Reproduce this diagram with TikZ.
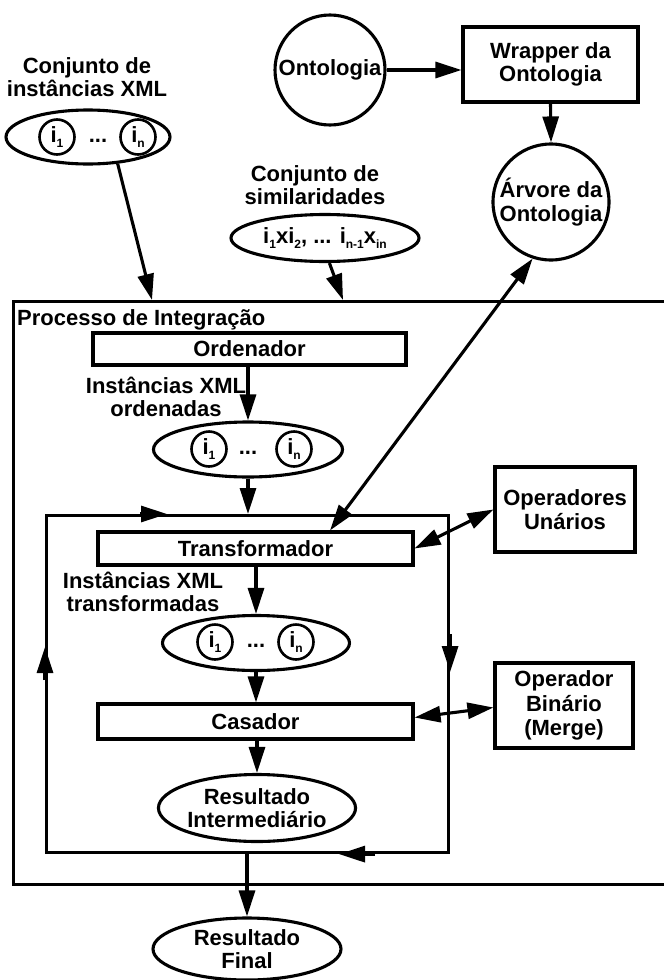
\documentclass[tikz,border=0pt]{standalone}
\usepackage{fontspec}
\setmainfont{Liberation Sans}
\usetikzlibrary{arrows.meta,shapes.geometric}
\newcommand{\isub}[1]{\raisebox{-5pt}{\fontsize{12}{12}\selectfont #1}}
\begin{document}
\begin{tikzpicture}[x=1pt,y=-1pt,
  font=\fontsize{22}{23.5}\selectfont\bfseries,
  every node/.style={inner sep=0pt, align=center},
  lw/.style={line width=3.1pt},
  box/.style={draw, lw, rectangle},
  ell/.style={draw, lw, ellipse},
  circ/.style={draw, lw, circle},
  ic/.style={draw, line width=2.6pt, circle, minimum size=35pt},
  arr/.style={lw, -{Triangle[length=26pt,width=16pt]}},
  darr/.style={lw, {Triangle[length=26pt,width=16pt]}-{Triangle[length=26pt,width=16pt]}},
]
\useasboundingbox (0,0) rectangle (664,980);

% top left
\node (lbl1) at (87,77) {Conjunto de\\instâncias XML};
\node[ell, minimum width=164pt, minimum height=54pt] (e1) at (88,137) {};
\node[ic] (e1a) at (57,137) {i\isub{1}};
\node (e1d) at (98,141) {...};
\node[ic] (e1b) at (138,137) {i\isub{n}};

% ontology
\node[circ, minimum size=110pt] (onto) at (330,70) {Ontologia};
\node[box, minimum width=175pt, minimum height=75pt] (wrap) at (550.5,64.5) {Wrapper da\\Ontologia};
\node[circ, minimum size=116pt] (arv) at (551,202) {Árvore da\\Ontologia};

% similarities
\node (lbl2) at (315,185) {Conjunto de\\similaridades};
\node[ell, minimum width=188pt, minimum height=47pt] (sim) at (325,238)
  {i\isub{1}xi\isub{2}, ... i\isub{n-1}x\isub{in}};

% outer box
\node[box, minimum width=668pt, minimum height=583pt, anchor=north west] (outer) at (12,300) {};
\node[anchor=west] (proc) at (17,320) {Processo de Integração};
\coordinate (c1) at (152,300);
\coordinate (c2) at (343,300);

\node[box, minimum width=313pt, minimum height=32pt] (ord) at (249.5,349) {Ordenador};
\node (lbl3) at (166,397) {Instâncias XML\\ordenadas};
\node[ell, minimum width=189pt, minimum height=55pt] (e2) at (248,449.5) {};
\node[ic] (e2a) at (209,449) {i\isub{1}};
\node (e2d) at (248,453) {...};
\node[ic] (e2b) at (294,449) {i\isub{n}};

% inner loop
\node[box, minimum width=402pt, minimum height=337pt, anchor=north west] (inner) at (45,514) {};
\node[box, minimum width=315pt, minimum height=33pt] (trans) at (255.5,548.5) {Transformador};
\node (lbl4) at (143,592) {Instâncias XML\\transformadas};
\node[ell, minimum width=187pt, minimum height=55pt] (e3) at (256,643) {};
\node[ic] (e3a) at (215,642) {i\isub{1}};
\node (e3d) at (256,646) {...};
\node[ic] (e3b) at (296,642) {i\isub{n}};
\node[box, minimum width=315pt, minimum height=35pt] (cas) at (255.5,721.5) {Casador};
\node[ell, minimum width=189pt, minimum height=67pt] (res) at (257,808) {Resultado\\Intermediário};

\node[ell, minimum width=188pt, minimum height=62pt] (final) at (247,949) {Resultado\\Final};

% operators
\node[box, minimum width=140pt, minimum height=85pt] (opun) at (565,509.5) {Operadores\\Unários};
\node[box, minimum width=138pt, minimum height=85pt, font=\fontsize{22}{24.5}\selectfont\bfseries] (opbin) at (564,705.5) {Operador\\Binário\\(Merge)};

% connectors
\draw[arr] (onto.east) -- (onto.east -| wrap.west);
\draw[arr] (wrap.south) -- (arv.north);
\draw[arr] (e1.-42) -- (c1);
\draw[arr] (sim.-80) -- (c2);
\draw[arr] (e2.north |- ord.south) -- (e2.north);
\draw[arr] (e2.south) -- (e2.south |- inner.north);
\draw[arr] (e3.north |- trans.south) -- (e3.north);
\draw[arr] (e3.south) -- (e3.south |- cas.north);
\draw[arr] (res.north |- cas.south) -- (res.north);
\draw[arr] (final.north |- inner.south) -- (final.north);
\draw[darr] ([xshift=74.5pt]trans.north) -- (arv.252);
\draw[darr] (trans.east) -- (opun.west);
\draw[darr] ([yshift=4pt]cas.east) -- ([yshift=-2pt]opbin.west);

% loop direction marks
\draw[arr] ([xshift=95pt]inner.north west) -- ([xshift=122pt]inner.north west);
\draw[arr] ([yshift=-120pt]inner.north east) -- ([yshift=-158pt]inner.north east);
\draw[arr] ([xshift=330pt]inner.south west) -- ([xshift=294pt]inner.south west);
\draw[arr] ([yshift=-166pt]inner.north west) -- ([yshift=-133pt]inner.north west);
\end{tikzpicture}
\end{document}
